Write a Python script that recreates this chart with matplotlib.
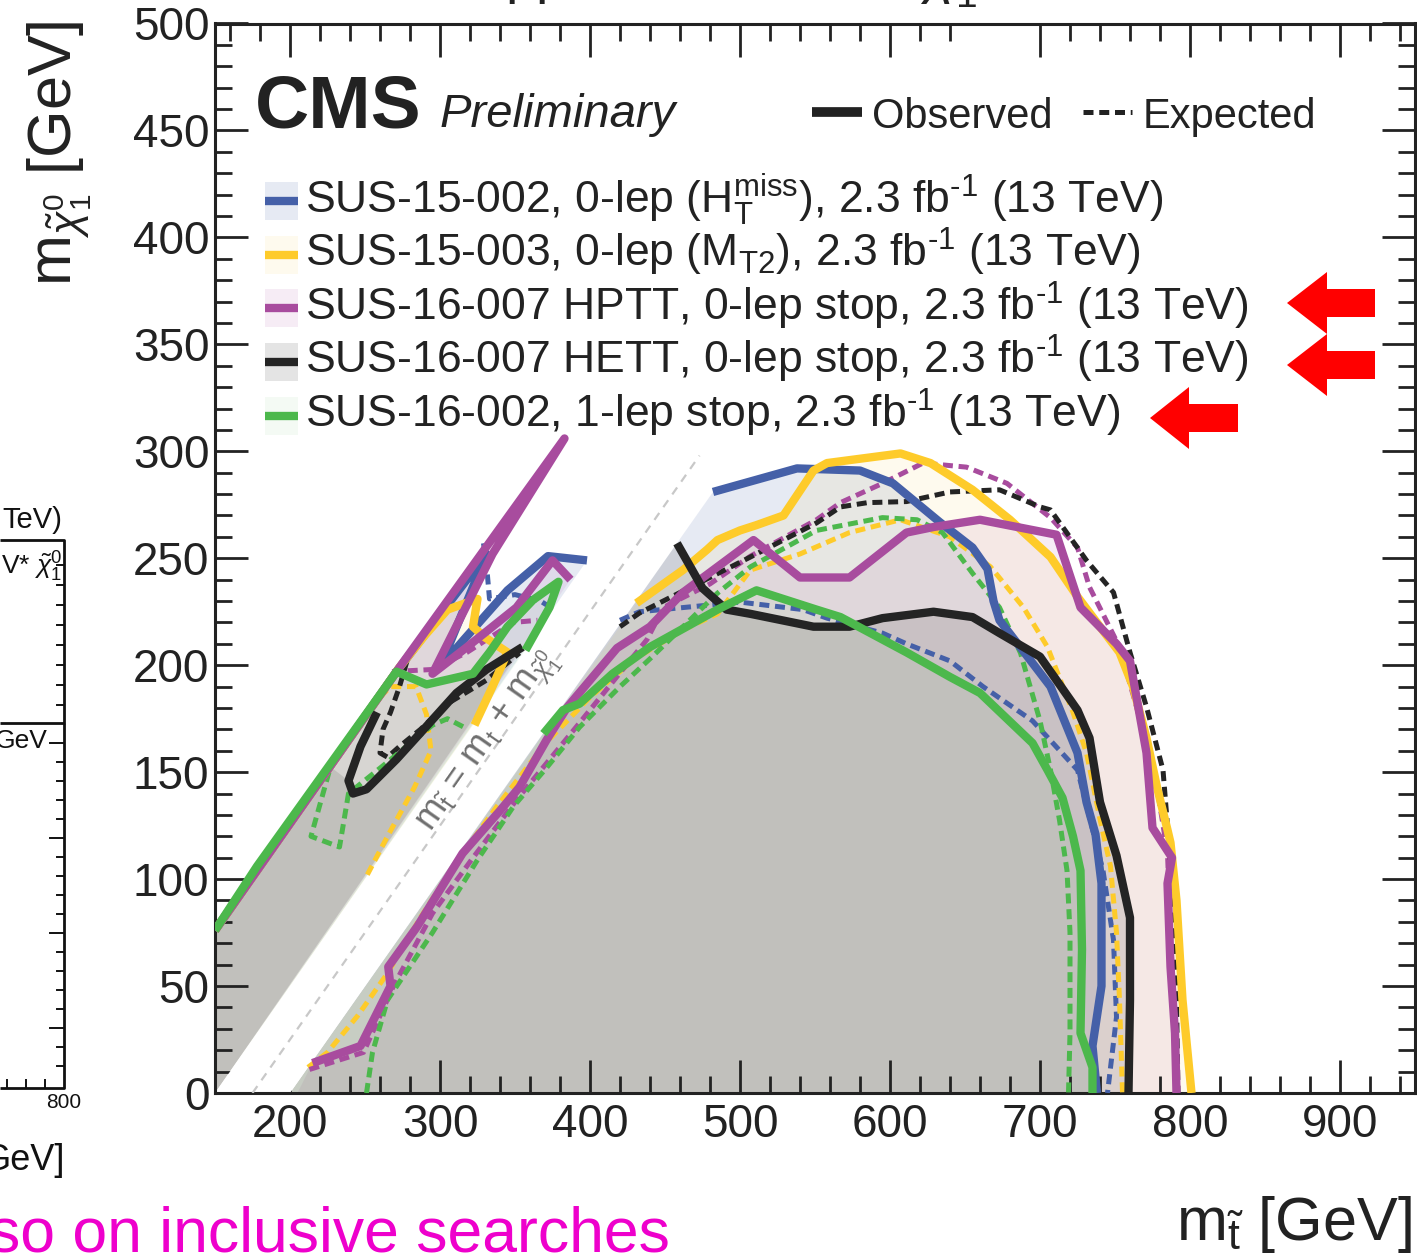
import matplotlib
matplotlib.use("Agg")
import matplotlib.pyplot as plt
from matplotlib.patches import Polygon
from matplotlib.ticker import MultipleLocator

plt.rcParams['font.family'] = ['Liberation Sans', 'DejaVu Sans']
plt.rcParams['mathtext.fontset'] = 'custom'
plt.rcParams['mathtext.rm'] = 'Liberation Sans'
plt.rcParams['mathtext.it'] = 'Liberation Sans:italic'
plt.rcParams['mathtext.bf'] = 'Liberation Sans:bold'

# contours, (m_stop, m_LSP) in GeV
# SUS-15-002, 0-lep HTmiss
blue_obs = [(482, 281), (538, 292), (580, 291), (602, 285), (633, 267), (655, 255), (665, 245),
            (669, 230), (673, 221), (695, 201), (707, 190), (725, 159), (731, 136), (737, 121),
            (741, 98), (741, 50), (735, 22), (738, 0)]
blue_exp = [(420, 221), (433, 225), (500, 229.5), (542, 226), (558, 222), (595, 215), (611, 210),
            (640, 202), (662, 190), (695, 174), (725, 151), (742, 104), (749, 71.5), (751, 35.5),
            (745, 0)]
blue_obs_low = [(150, 76), (271, 197), (331, 252), (300, 199), (316, 212), (345, 235), (372, 251),
                (398, 249)]
blue_exp_low = [(329, 257), (331, 247), (333, 231), (350, 233), (367, 230), (376, 226)]

# SUS-15-003, 0-lep MT2
yellow_obs = [(431, 229), (462, 244.5), (478, 254), (485, 258.5), (500, 263), (511, 265.5),
              (529, 270), (549, 291), (558, 294.5), (607, 299), (627, 294.5), (655, 282),
              (680, 268), (707, 250.6), (725, 232), (740, 218), (753, 206), (762, 190),
              (771, 166), (778, 143), (785, 123), (787, 117), (791, 90), (795, 43.5), (801, 0)]
yellow_exp = [(212, 12), (225, 19), (245, 36), (265, 56), (287, 82), (309, 106), (338, 134),
              (371, 164), (400, 185), (430, 203), (462, 216.5), (485, 224), (507, 244.5),
              (540, 252), (573, 262), (607, 268), (640, 260), (667, 246), (689, 227),
              (705, 208.5), (722, 178), (731, 159), (740, 128), (747, 106), (751, 75),
              (753, 43.5), (755, 0)]
yellow_obs_low = [(150, 76), (273, 199), (290, 214), (305, 226), (325, 231), (322, 218),
                  (330, 213), (345, 206), (335, 190), (323, 172)]
yellow_exp_low = [(260, 185), (267, 190), (284, 190), (291, 177), (294, 160), (283, 143),
                  (265, 120), (250, 100)]

# SUS-16-007 HPTT
purple_obs = [(215, 14), (247, 22), (267, 50), (265.5, 59), (285, 78), (315, 112), (340, 132),
              (353, 143), (371, 165), (385, 180.5), (418, 208), (440, 218), (462, 234),
              (509, 258.5), (540, 241), (573, 241), (611, 262), (629, 264.6), (660, 268),
              (711, 261), (727, 227), (751, 210), (760, 202), (771, 159), (775, 124), (788, 110),
              (785, 98), (787, 59), (790, 28), (791, 0)]
purple_exp = [(213, 11), (249, 19), (269, 50), (295, 84), (322, 110), (351, 137), (393, 173),
              (438, 212), (449, 227), (480, 238), (507, 251), (551, 268), (567, 276), (595, 285),
              (622, 294.5), (651, 292.6), (678, 285), (707, 269), (725, 255), (733, 236.5),
              (753, 208.5), (767, 174), (778, 143), (785, 112), (787, 75), (790, 28), (791, 0)]
purple_obs_low = [(150, 76), (273, 199), (383, 306), (335, 252), (295, 196), (318, 208.5),
                  (351, 227), (375, 249), (387, 240)]
purple_exp_low = [(268, 197), (295, 198), (318, 206), (349, 220), (365, 221)]

# SUS-16-007 HETT
black_obs = [(458, 257), (475, 236), (491, 226), (507, 224), (549, 218), (573, 218), (595, 222),
             (629, 225), (655, 222.5), (673, 215), (700, 204), (725, 179), (733, 166),
             (740, 136), (751, 111), (760, 82), (760, 43.5), (759, 0)]
black_exp = [(420, 218), (433, 224.4), (507, 250.6), (551, 266.5), (567, 274), (585, 276),
             (611, 276.5), (640, 281), (673, 282), (700, 274), (707, 272.6), (731, 249),
             (749, 234), (760, 206), (771, 180.5), (782, 151), (787, 107.5), (788, 90),
             (791, 43.5), (792, 0)]
black_obs_low = [(258, 178), (247, 162), (239, 146), (242, 140), (251, 142), (271, 156),
                 (293, 173), (311, 187), (331, 198), (355, 208.5)]
black_exp_low = [(278, 202), (273, 190), (267, 178), (262, 170), (260, 159), (265, 157),
                 (273, 162), (287, 170), (305, 182), (331, 193), (353, 205.7)]

# SUS-16-002, 1-lep stop
green_obs = [(369, 168), (382, 179), (393, 182), (415, 196), (440, 208.5), (485, 226),
             (511, 235), (551, 226), (567, 222.5), (595, 212), (611, 206), (640, 194.5),
             (660, 187), (695, 163.6), (705, 151), (715, 138), (722, 120), (727, 104),
             (728, 67), (727, 28), (735, 12), (735, 0)]
green_exp = [(251, 0), (255, 19), (265, 43.5), (295, 75), (325, 109), (349, 134), (371, 152),
             (393, 171), (420, 190), (440, 203), (462, 218), (485, 233.7), (507, 246),
             (551, 263), (595, 269), (618, 268), (635, 262), (655, 243), (673, 227),
             (687, 205.7), (700, 174), (707, 151), (713, 127.6), (718, 104), (720, 75),
             (720, 28), (719, 0)]
green_obs_low = [(150, 76), (178, 106), (271, 197), (291, 191), (322, 196), (333, 206),
                 (345, 218), (362, 230.5), (379, 239), (373, 227), (357, 207)]
green_exp_low = [(226, 150), (214, 120), (233, 115), (239, 140), (262, 153), (295, 172),
                 (305, 175), (316, 171)]

labels = [r"SUS-15-002, 0-lep (H$_{\rm T}^{\rm miss}$), 2.3 fb$^{\text{-1}}$ (13 TeV)",
          r"SUS-15-003, 0-lep (M$_{\rm T2}$), 2.3 fb$^{\text{-1}}$ (13 TeV)",
          r"SUS-16-007 HPTT, 0-lep stop, 2.3 fb$^{\text{-1}}$ (13 TeV)",
          r"SUS-16-007 HETT, 0-lep stop, 2.3 fb$^{\text{-1}}$ (13 TeV)",
          r"SUS-16-002, 1-lep stop, 2.3 fb$^{\text{-1}}$ (13 TeV)"]
colors = ['#4560a8', '#fecb2a', '#a84c9e', '#242424', '#4cb84c']
alphas = [0.13, 0.08, 0.10, 0.12, 0.06]

W, H = 1417, 1260
fig = plt.figure(figsize=(W / 100, H / 100), dpi=100)
ax = fig.add_axes([215 / W, 1 - 1093 / H, 1200 / W, 1069.5 / H])
ax.set_xlim(150, 950)
ax.set_ylim(0, 500)

main_sets = [(blue_obs, [(200, 0)]), (yellow_obs, [(200, 0)]), (purple_obs, [(205, 0)]),
             (black_obs, [(200, 0)]), (green_obs, [(200, 0)])]
low_sets = [blue_obs_low, yellow_obs_low, purple_obs_low,
            [(150, 76), (226, 153)] + black_obs_low[2:], green_obs_low]

# excluded regions
for (pts, close), low, c, a in zip(main_sets, low_sets, colors, alphas):
    ax.add_patch(Polygon(pts + close, closed=True, facecolor=c, alpha=a, edgecolor='none', zorder=1))
    ax.add_patch(Polygon(low + [(150, 0)], closed=True, facecolor=c, alpha=a, edgecolor='none', zorder=1))

# forbidden band around m_stop = m_top + m_LSP
ax.add_patch(Polygon([(150, 0), (200, 0), (720, 520), (670, 520)], closed=True,
                     facecolor='white', edgecolor='none', zorder=2))
ax.plot([175, 473], [0, 298], color='#c8c8c8', lw=1.6, ls=(0, (3.8, 3.2)), zorder=3)
ax.text(333, 164, r"m$_{\tilde{\rm t}}$ = m$_{\rm t}$ + m$_{\tilde{\chi}^{0}_{1}}$", rotation=55,
        rotation_mode='anchor', ha='center', va='center', fontsize=26, color='#6e6e6e', zorder=3)

exp_sets = [(blue_exp, blue_exp_low), (yellow_exp, yellow_exp_low), (purple_exp, purple_exp_low),
            (black_exp, black_exp_low), (green_exp, green_exp_low)]
obs_sets = [(blue_obs, blue_obs_low), (yellow_obs, yellow_obs_low), (purple_obs, purple_obs_low),
            (black_obs, black_obs_low), (green_obs, green_obs_low)]

for (e1, e2), c in zip(exp_sets, colors):
    for seg in (e1, e2):
        ax.plot([p[0] for p in seg], [p[1] for p in seg], color=c, lw=3.6,
                ls=(0, (2.0, 1.15)), zorder=4)
for i, ((o1, o2), c) in enumerate(zip(obs_sets, colors)):
    for seg in (o1, o2):
        ax.plot([p[0] for p in seg], [p[1] for p in seg], color=c, lw=6,
                solid_capstyle='butt', zorder=5 + 0.1 * i)

ax.xaxis.set_major_locator(MultipleLocator(100))
ax.xaxis.set_minor_locator(MultipleLocator(20))
ax.yaxis.set_major_locator(MultipleLocator(50))
ax.yaxis.set_minor_locator(MultipleLocator(10))
ax.set_xticks(range(200, 901, 100))
ax.tick_params(which='both', direction='in', top=True, right=True, color='#222222',
               labelcolor='#222222', width=2)
ax.tick_params(which='major', length=24, labelsize=33)
ax.tick_params(which='minor', length=12)
ax.tick_params(axis='x', pad=7)
ax.tick_params(axis='y', pad=4)
for s in ax.spines.values():
    s.set_linewidth(2.2)
    s.set_color('#222222')
ax.set_xlim(150, 950)

# overlay in figure pixels for labels, legend and surrounding slide content
ov = fig.add_axes([0, 0, 1, 1], zorder=10)
ov.set_xlim(0, W)
ov.set_ylim(H, 0)
ov.axis('off')
ov.patch.set_visible(False)

ov.text(60, 20, r"m$_{\tilde{\chi}^{0}_{1}}$ [GeV]", rotation=90, ha='center', va='top',
        fontsize=44, color='#222222')
ov.text(1412, 1240, r"m$_{\tilde{\rm t}}$ [GeV]", ha='right', va='baseline', fontsize=44,
        color='#222222')
ov.text(505, -6, r"pp $\rightarrow$ $\tilde{\rm t}\,\tilde{\rm t}^{*}$,  $\tilde{\rm t}$ $\rightarrow$ t $\tilde{\chi}^{0}_{1}$",
        ha='left', va='baseline', fontsize=40, color='#222222')

ov.text(255, 127, "CMS", fontsize=54, fontweight='bold', color='#222222', va='baseline')
ov.text(440, 127, "Preliminary", fontsize=34, style='italic', color='#222222', va='baseline')
ov.plot([812, 862], [112, 112], color='#222222', lw=7, solid_capstyle='butt')
ov.text(872, 128, "Observed", fontsize=30, color='#222222', va='baseline')
ov.plot([1083, 1132], [112, 112], color='#222222', lw=3.6, ls=(0, (2.0, 1.15)))
ov.text(1143, 128, "Expected", fontsize=30, color='#222222', va='baseline')

for i, (lab, c, a) in enumerate(zip(labels, colors, alphas)):
    yc = 201 + 53.7 * i
    ov.fill([265, 298, 298, 265], [yc - 19, yc - 19, yc + 19, yc + 19], color=c, alpha=a, lw=0)
    ov.plot([265, 298], [yc, yc], color=c, lw=6, solid_capstyle='butt')
    ov.text(305, yc + 12, lab, fontsize=32, color='#222222', va='baseline')

# red arrows: tip x, tip y, head base x, tail x
for tx, ty, hx, ex in [(1287, 303, 1327, 1375), (1287, 365, 1327, 1375), (1150, 418, 1189, 1238)]:
    ov.fill([tx, hx, hx, ex, ex, hx, hx], [ty, ty - 31, ty - 14, ty - 14, ty + 14, ty + 14, ty + 31],
            color='#ff0000', lw=0)

# neighbouring plot cut at the left edge of the slide
k = dict(color='#111111', lw=2, solid_capstyle='butt')
ov.plot([0, 64, 64, 0], [540, 540, 723, 723], **k)
ov.plot([64, 64, 0], [723, 1088, 1088], **k)
for j, y in enumerate(range(565, 716, 20)):
    ov.plot([57, 64], [y, y], color='#111111', lw=1.4)
for j, y in enumerate(range(743, 1080, 19)):
    ov.plot([64 - (14 if j % 5 == 0 else 7), 64], [y, y], color='#111111', lw=1.4)
for x in (7, 26, 45):
    ov.plot([x, x], [1088, 1080], color='#111111', lw=1.4)
ov.text(62, 520, "TeV)", ha='right', va='center', fontsize=21, color='#111111')
ov.text(62, 567, r"V* $\tilde{\chi}^{0}_{1}$", ha='right', va='center', fontsize=19, color='#111111')
ov.text(47, 741, "GeV", ha='right', va='center', fontsize=19, color='#111111')
ov.text(64, 1103, "800", ha='center', va='center', fontsize=15, color='#111111')
ov.text(65, 1160, "GeV]", ha='right', va='center', fontsize=26, color='#111111')
ov.text(670, 1252, "so on inclusive searches", ha='right', va='baseline', fontsize=45,
        color='#ee00cc')

fig.savefig("out.png", dpi=100)
